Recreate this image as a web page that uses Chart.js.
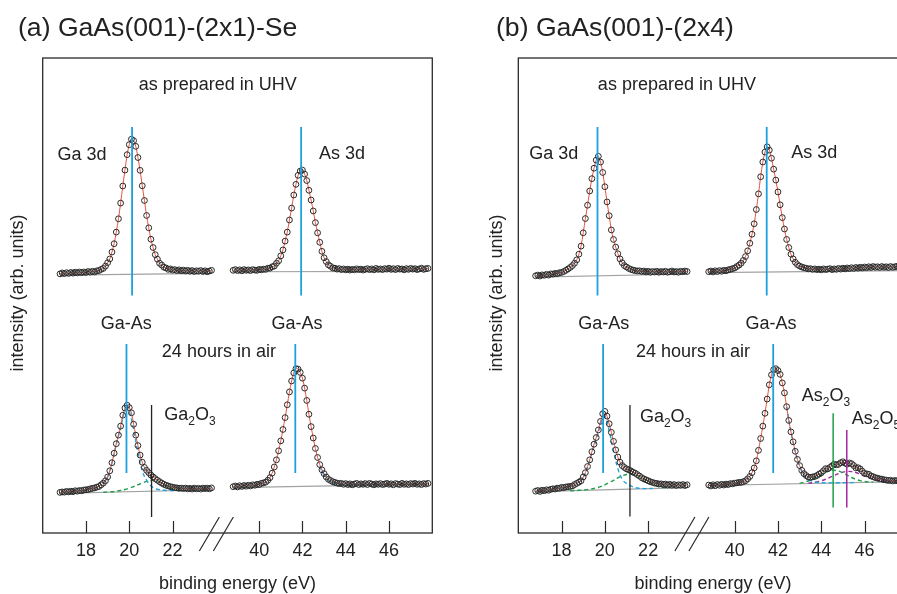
<!DOCTYPE html>
<html>
<head>
<meta charset="utf-8">
<script src="https://cdn.jsdelivr.net/npm/chart.js@4.4.0/dist/chart.umd.min.js"></script>
<style>
  html, body { margin: 0; padding: 0; background: #fff; width: 897px; height: 594px; overflow: hidden; }
  .panel { position: absolute; top: 0; width: 450px; height: 594px; }
  #pa { left: 0; }
  #pb { left: 475px; }
</style>
</head>
<body>
<div class="panel" id="pa"><canvas id="chartA" width="450" height="594"></canvas></div>
<div class="panel" id="pb"><canvas id="chartB" width="450" height="594"></canvas></div>
<script>
// binding energy grids (eV)
const gaEnergy = [16.8,16.9,17.0,17.1,17.2,17.3,17.4,17.5,17.6,17.7,17.8,17.9,18.0,18.1,18.2,18.3,18.4,18.5,18.6,18.7,
  18.8,18.9,19.0,19.1,19.2,19.3,19.4,19.5,19.6,19.7,19.8,19.9,20.0,20.1,20.2,20.3,20.4,20.5,20.6,20.7,
  20.8,20.9,21.0,21.1,21.2,21.3,21.4,21.5,21.6,21.7,21.8,21.9,22.0,22.1,22.2,22.3,22.4,22.5,22.6,22.7,
  22.8,22.9,23.0,23.1,23.2,23.3,23.4,23.5,23.6,23.7,23.8];
const asEnergy = [38.8,38.9,39.0,39.1,39.2,39.3,39.4,39.5,39.6,39.7,39.8,39.9,40.0,40.1,40.2,40.3,40.4,40.5,40.6,40.7,
  40.8,40.9,41.0,41.1,41.2,41.3,41.4,41.5,41.6,41.7,41.8,41.9,42.0,42.1,42.2,42.3,42.4,42.5,42.6,42.7,
  42.8,42.9,43.0,43.1,43.2,43.3,43.4,43.5,43.6,43.7,43.8,43.9,44.0,44.1,44.2,44.3,44.4,44.5,44.6,44.7,
  44.8,44.9,45.0,45.1,45.2,45.3,45.4,45.5,45.6,45.7,45.8,45.9,46.0,46.1,46.2,46.3,46.4,46.5,46.6,46.7,
  46.8,46.9,47.0,47.1,47.2,47.3,47.4,47.5,47.6,47.7,47.8];
const gaTicks = [18, 20, 22];
const asTicks = [40, 42, 44, 46];

// (a) GaAs(001)-(2x1)-Se
const aGaUhv = [9.1,9.5,9.2,9.6,9.3,9.7,9.4,9.8,9.5,9.9, 9.6,9.9,9.7,10.1,9.8,10.2,9.9,10.4,10.5,11.0,
  11.4,12.4,13.8,15.4,18.3,21.8,26.7,32.3,38.9,46.1, 52.8,59.3,63.5,65.8,65.2,62.8,58.1,52.7,46.2,40.0,
  33.7,28.5,23.7,20.2,17.2,15.3,13.6,12.8,11.9,11.6, 11.0,11.2,10.7,10.9,10.5,10.8,10.4,10.7,10.3,10.6,
  10.2,10.5,10.1,10.4,10.2,10.5,10.1,10.4,10.0,10.3, 10.6];
const aAsUhv = [10.6,10.9,10.5,10.8,10.4,10.9,10.6,10.8,10.5,10.9, 10.7,10.6,11.0,10.8,11.1,11.0,11.5,11.5,12.1,12.4,
  13.6,14.6,16.7,19.2,22.9,26.7,31.8,36.8,42.3,46.8, 50.6,52.4,52.8,51.1,48.4,44.3,40.2,35.6,30.7,26.4,
  22.4,18.6,15.9,14.3,12.9,12.3,11.6,11.5,11.1,11.3, 10.9,11.2,10.8,11.1,10.7,11.0,10.8,11.2,10.9,11.1,
  10.7,11.0,11.3,10.9,11.2,10.8,11.4,11.0,11.2,10.9, 11.3,11.1,11.5,11.0,11.3,10.9,11.4,11.1,11.2,10.8,
  11.3,11.0,11.4,11.1,11.3,10.9,11.2,11.5,11.0,11.3, 11.4];
const aGaAir = [17.1,17.3,17.2,17.5,17.3,17.6,17.4,17.8,17.6,17.9, 17.8,18.1,18.2,18.3,18.6,18.8,19.0,19.3,19.6,20.3,
  21.0,22.0,23.6,26.2,29.6,33.6,37.6,41.2,45.0,49.6, 52.6,53.8,52.8,50.6,45.8,41.2,36.8,32.8,29.8,27.6,
  26.4,25.4,24.4,23.6,22.9,22.2,21.6,21.0,20.5,20.1, 19.8,19.5,19.3,19.1,19.0,18.8,18.9,18.7,18.9,18.6,
  18.8,18.5,18.9,18.6,18.8,18.5,18.9,18.7,18.9,18.6, 19.0];
const aAsAir = [19.5,19.8,19.4,19.9,19.6,20.0,19.7,20.1,19.8,20.3, 20.1,20.5,20.4,20.9,21.1,21.4,22.2,23.3,25.2,27.8,
  30.8,34.6,38.8,43.6,48.6,54.0,59.4,64.0,67.4,69.2, 69.0,67.6,65.2,61.0,55.8,50.0,44.8,40.0,35.6,31.8,
  28.8,26.6,25.0,23.6,22.6,22.1,21.6,21.3,21.0,20.8, 20.9,20.5,20.8,20.4,20.7,20.3,20.6,20.9,20.4,20.7,
  20.5,20.8,20.4,20.9,20.6,20.3,20.7,20.5,20.8,20.4, 20.6,20.9,20.5,20.7,20.3,20.8,20.6,20.4,20.9,20.5,
  20.7,20.4,20.8,20.6,20.9,20.5,20.7,20.4,20.8,20.6, 20.9];
// fitted components and backgrounds, panel (a)
const aGaAirGaAs = [[18.8,21.0],[19.0,23.5],[19.2,29.4],[19.4,37.3],[19.6,44.4],[19.8,51.6],[19.9,52.6],[20.0,51.3],
  [20.2,43.7],[20.4,33.9],[20.6,26.2],[20.8,22.2],[21.0,19.9],[21.2,18.7],[21.4,18.2],[21.6,18.0],[21.8,17.9],[22.0,17.85],[22.2,17.86]];
const aGaAirOxide = [[18.8,17.17],[19.0,17.26],[19.2,17.38],[19.4,17.6],[19.6,17.89],[19.8,18.31],[20.0,18.87],[20.2,19.53],
  [20.4,20.32],[20.6,21.06],[20.8,21.71],[21.0,22.1],[21.2,22.21],[21.4,21.56],[21.6,20.33],[21.8,19.2],[22.0,18.43],[22.2,18.08],[22.4,17.96],[22.6,17.94]];
const aAsAirGaAs = [[42.8,28.0],[43.0,24.4],[43.2,22.2],[43.4,21.1],[43.6,20.6],[43.8,20.4],[44.2,20.3],[44.8,20.3],[45.4,20.35],[46.0,20.4]];
const aGaUhvBg = [[16.8,8.6],[23.8,9.3]];
const aAsUhvBg = [[38.8,10.0],[47.8,10.2]];
const aGaAirBg = [[16.8,16.7],[23.8,18.2]];
const aAsAirBg = [[38.8,19.1],[47.8,20.6]];
const aPeaks = { gaUhv: 20.13, asUhv: 41.94, gaAir: 19.87, ga2o3: 21.03, asAir: 41.67 };

// (b) GaAs(001)-(2x4)
const bGaUhv = [8.3,8.6,8.2,8.7,8.5,8.9,8.6,9.1,9.0,9.3, 9.2,9.6,9.7,10.1,10.6,11.2,11.8,12.6,13.6,15.0,
  17.4,20.8,26.4,32.4,38.0,44.0,49.2,53.6,57.0,58.6, 56.2,51.8,45.8,39.4,33.6,27.6,23.6,20.4,17.6,15.4,
  13.8,12.6,12.0,11.4,11.0,10.7,10.5,10.3,10.4,10.1, 10.3,9.9,10.2,9.8,10.1,9.9,10.2,9.8,10.1,9.9,
  10.2,9.8,10.0,10.3,9.9,10.1,9.8,10.2,10.0,10.3, 10.1];
const bAsUhv = [10.0,10.3,9.9,10.4,10.1,10.5,10.2,10.6,10.4,10.8, 11.0,11.3,11.6,12.2,12.8,13.6,14.8,16.4,18.8,22.0,
  25.8,30.2,36.2,42.8,50.0,56.2,60.4,62.6,61.2,57.8, 53.2,48.6,43.6,38.2,32.8,28.0,23.6,20.2,17.4,15.4,
  14.0,13.0,12.4,12.0,11.7,11.5,11.2,11.3,11.0,11.2, 10.9,11.1,10.8,11.2,10.9,11.1,11.3,10.9,11.2,11.0,
  11.4,11.1,11.5,11.2,11.6,11.3,11.7,11.4,11.8,11.5, 11.9,11.6,12.0,11.7,12.1,11.8,12.2,11.9,12.1,11.8,
  12.2,11.9,12.1,11.8,12.2,11.9,12.1,12.3,11.9,12.2, 12.0];
const bGaAir = [17.6,17.9,17.5,18.0,17.8,18.2,18.0,18.4,18.6,18.5, 18.9,18.8,19.2,19.1,19.4,19.5,19.6,19.8,20.4,20.9,
  21.4,22.0,23.6,25.4,28.0,30.8,34.2,37.4,40.2,43.4, 47.0,50.2,51.2,49.2,46.0,42.4,38.6,35.0,32.0,29.8,
  28.4,27.6,27.0,26.6,26.2,25.6,25.2,24.6,24.0,23.3, 22.8,22.4,22.0,21.6,21.3,21.0,20.9,20.6,20.7,20.4,
  20.6,20.2,20.5,20.1,20.4,20.0,20.3,20.1,20.4,20.0, 20.3];
const bAsAir = [20.2,19.8,20.3,19.9,20.4,20.1,20.5,20.2,20.6,20.4, 20.8,20.7,21.0,21.1,21.3,21.3,21.6,22.0,22.8,23.8,
  25.4,27.4,30.4,34.8,39.8,45.0,50.4,56.4,62.4,66.6, 68.8,69.2,68.4,66.8,63.2,59.0,53.2,47.4,42.6,38.4,
  34.4,31.0,28.4,26.4,25.0,24.2,23.6,23.4,23.6,23.8, 24.2,24.8,25.3,26.2,27.1,27.0,27.6,28.3,29.0,28.7,
  28.9,29.6,30.0,29.4,29.0,29.5,29.2,28.4,27.4,27.5, 27.0,26.0,25.1,24.9,24.7,24.0,23.7,23.3,23.1,22.8,
  22.7,22.4,22.3,22.1,22.2,21.9,22.1,22.0,21.8,22.0, 21.7];
// fitted components and backgrounds, panel (b)
const bGaAirGaAs = [[18.8,21.3],[19.0,23.4],[19.2,27.7],[19.4,33.6],[19.6,39.3],[19.8,45.6],[19.9,48.6],[20.0,49.1],[20.1,47.0],
  [20.2,43.0],[20.4,34.7],[20.6,27.1],[20.8,22.7],[21.0,20.8],[21.2,19.8],[21.4,19.1],[21.6,18.8],[21.8,18.7],[22.0,18.7],[22.2,18.75]];
const bGaAirOxide = [[18.4,17.79],[18.8,17.97],[19.2,18.28],[19.6,18.98],[19.8,19.53],[20.0,20.28],[20.2,21.23],[20.4,22.18],
  [20.6,23.22],[20.8,24.07],[21.0,24.62],[21.2,24.87],[21.4,24.62],[21.6,23.77],[21.8,22.71],[22.0,21.56],[22.2,20.61],[22.4,19.85],
  [22.6,19.32],[22.8,19.08],[23.0,18.99]];
const bAsAirGaAs = [[42.4,53.2],[42.6,42.5],[42.8,34.3],[43.0,28.1],[43.2,24.4],[43.4,22.6],[43.6,21.8],[43.8,21.4],[44.0,21.2],
  [44.4,21.1],[44.8,21.15],[45.2,21.2],[45.6,21.25]];
const bAsAirAs2O3 = [[43.0,21.0],[43.2,21.35],[43.4,21.88],[43.6,22.62],[43.8,23.59],[44.0,24.66],[44.2,25.59],[44.4,26.25],
  [44.6,26.41],[44.8,26.07],[45.0,25.3],[45.2,24.34],[45.4,23.37],[45.6,22.6],[45.8,22.03],[46.0,21.68],[46.2,21.51],[46.4,21.43]];
const bAsAirAs2O5 = [[43.4,21.0],[43.6,21.2],[43.8,21.52],[44.0,22.0],[44.2,22.62],[44.4,23.4],[44.6,24.23],[44.8,25.02],
  [45.0,25.61],[45.2,25.93],[45.4,25.86],[45.6,25.48],[45.8,24.83],[46.0,24.08],[46.2,23.34],[46.4,22.7],[46.6,22.23],
  [46.8,21.9],[47.0,21.7],[47.2,21.6]];
const bGaUhvBg = [[16.8,7.7],[23.8,9.05]];
const bAsUhvBg = [[38.8,9.6],[47.8,10.5]];
const bGaAirBg = [[16.8,17.4],[23.8,19.1]];
const bAsAirBg = [[38.8,20.0],[47.8,21.6]];
const bPeaks = { gaUhv: 19.66, asUhv: 41.48, gaAir: 19.92, ga2o3: 21.16, asAir: 41.78, as2o3: 44.55, as2o5: 45.18 };

const RED = '#e5533d', BLUE = '#1ba1e0', GREEN = '#1f9f4a', PURPLE = '#a1289c', GREY = '#a2a2a2', INK = '#222';
const FONT = '"Liberation Sans", Arial, Helvetica, sans-serif';

function pts(xs, ys) { return xs.map((x, i) => ({ x, y: ys[i] })); }
function pairs(list) { return list.map(p => ({ x: p[0], y: p[1] })); }

function spectrum(xs, ys, xId, yId) {
  return {
    data: pts(xs, ys), xAxisID: xId, yAxisID: yId,
    borderColor: RED, borderWidth: 1, tension: 0.3,
    pointRadius: 2.9, pointBorderWidth: 1, pointBorderColor: '#2a2a2a',
    pointBackgroundColor: 'rgba(255,255,255,0)', order: 1
  };
}
function dashed(list, color, xId, yId) {
  return {
    data: pairs(list), xAxisID: xId, yAxisID: yId,
    borderColor: color, borderWidth: 1.4, borderDash: [4, 3],
    pointRadius: 0, tension: 0.4, order: 2
  };
}
function background(list, xId, yId) {
  return {
    data: pairs(list), xAxisID: xId, yAxisID: yId,
    borderColor: GREY, borderWidth: 1.2, pointRadius: 0, order: 3
  };
}
function marker(e, lo, hi, color, xId, yId, w) {
  return {
    data: [{ x: e, y: lo }, { x: e, y: hi }], xAxisID: xId, yAxisID: yId,
    borderColor: color, borderWidth: w || 1.8, pointRadius: 0, order: 0
  };
}

// text with {subscript} parts
function rich(ctx, text, x, y, align, size) {
  const parts = [];
  text.replace(/\{([^}]*)\}|([^{]+)/g, (m, sub, norm) => {
    parts.push(sub !== undefined ? [sub, true] : [norm, false]);
    return m;
  });
  const subSize = Math.round(size * 0.68);
  let w = 0;
  parts.forEach(p => {
    ctx.font = (p[1] ? subSize : size) + 'px ' + FONT;
    p.push(ctx.measureText(p[0]).width);
    w += p[2];
  });
  let cx = align === 'center' ? x - w / 2 : x;
  ctx.textAlign = 'left';
  ctx.textBaseline = 'alphabetic';
  parts.forEach(p => {
    ctx.font = (p[1] ? subSize : size) + 'px ' + FONT;
    ctx.fillText(p[0], cx, p[1] ? y + size * 0.28 : y);
    cx += p[2];
  });
}

function makeDeco(p) {
  return {
    id: 'deco',
    afterDraw(chart) {
      const { ctx, chartArea: a, scales } = chart;
      ctx.save();
      ctx.strokeStyle = '#2a2a2a';
      ctx.lineWidth = 1.3;
      ctx.strokeRect(a.left, a.top, a.right - a.left, a.bottom - a.top);

      // inward tick marks
      ctx.lineWidth = 1.2;
      ctx.beginPath();
      ['xGa', 'xAs'].forEach(id => {
        const s = scales[id];
        s.ticks.forEach(t => {
          const px = Math.round(s.getPixelForValue(t.value)) + 0.5;
          ctx.moveTo(px, a.bottom);
          ctx.lineTo(px, a.bottom - 12);
        });
      });
      // axis break marks
      const bx = scales.xGa.right;
      ctx.moveTo(bx - 16.5, a.bottom + 18); ctx.lineTo(bx + 3.5, a.bottom - 16);
      ctx.moveTo(bx - 2.5, a.bottom + 18); ctx.lineTo(bx + 17.5, a.bottom - 16);
      ctx.stroke();

      ctx.fillStyle = INK;
      p.labels.forEach(l => {
        const x = scales[l[1]].getPixelForValue(l[2]);
        const y = scales[l[3]].getPixelForValue(l[4]);
        rich(ctx, l[0], x, y, l[5], 18);
      });

      // panel title
      ctx.font = '26.6px ' + FONT;
      ctx.textAlign = 'left';
      ctx.textBaseline = 'alphabetic';
      ctx.fillText(p.title, p.titleX, 36);

      // axis titles
      ctx.font = '18px ' + FONT;
      ctx.textAlign = 'center';
      ctx.fillText('binding energy (eV)', (a.left + a.right) / 2, 588.5);
      ctx.translate(p.yTitleX, 293);
      ctx.rotate(-Math.PI / 2);
      ctx.textBaseline = 'middle';
      ctx.fillText('intensity (arb. units)', 0, 0);
      ctx.restore();
    }
  };
}

function xScale(min, max, ticks, weight) {
  return {
    type: 'linear', position: 'bottom', min, max,
    stack: 'energy', stackWeight: weight,
    afterBuildTicks: s => { s.ticks = ticks.map(v => ({ value: v })); },
    grid: { display: false, drawTicks: false },
    border: { display: false },
    ticks: { color: INK, padding: 7.2, maxRotation: 0, autoSkip: false, font: { family: FONT, size: 18 } }
  };
}
function yScale() {
  return { type: 'linear', position: 'left', display: false, min: 0, max: 100, stack: 'rows', stackWeight: 1 };
}

function makePanel(p) {
  new Chart(document.getElementById(p.canvas), {
    type: 'line',
    data: { datasets: p.datasets },
    options: {
      responsive: false, animation: false, devicePixelRatio: 1,
      layout: { padding: p.padding },
      plugins: { legend: { display: false }, tooltip: { enabled: false } },
      scales: {
        xGa: xScale(16, 24, gaTicks, 8),
        xAs: xScale(38, 48, asTicks, 10),
        yBot: yScale(),
        yTop: yScale()
      }
    },
    plugins: [makeDeco(p)]
  });
}

makePanel({
  canvas: 'chartA', title: '(a) GaAs(001)-(2x1)-Se', titleX: 18, yTitleX: 18,
  padding: { left: 42.7, top: 58, right: 17.7, bottom: 25 },
  labels: [
    ['as prepared in UHV', 'xAs', 38.09, 'yTop', 86.7, 'center'],
    ['Ga 3d', 'xGa', 17.82, 'yTop', 57.1, 'center'],
    ['As 3d', 'xAs', 43.83, 'yTop', 57.3, 'center'],
    ['Ga-As', 'xGa', 19.86, 'yBot', 86.1, 'center'],
    ['Ga-As', 'xAs', 41.75, 'yBot', 86.1, 'center'],
    ['24 hours in air', 'xAs', 38.14, 'yBot', 74.0, 'center'],
    ['Ga{2}O{3}', 'xGa', 21.62, 'yBot', 47.5, 'left']
  ],
  datasets: [
    marker(aPeaks.gaUhv, -1, 71, BLUE, 'xGa', 'yTop'),
    marker(aPeaks.asUhv, -1, 71, BLUE, 'xAs', 'yTop'),
    marker(aPeaks.gaAir, 25.3, 79.6, BLUE, 'xGa', 'yBot'),
    marker(aPeaks.asAir, 25.3, 79.6, BLUE, 'xAs', 'yBot'),
    marker(aPeaks.ga2o3, 6.7, 53.9, INK, 'xGa', 'yBot', 1.3),
    spectrum(gaEnergy, aGaUhv, 'xGa', 'yTop'),
    spectrum(asEnergy, aAsUhv, 'xAs', 'yTop'),
    spectrum(gaEnergy, aGaAir, 'xGa', 'yBot'),
    spectrum(asEnergy, aAsAir, 'xAs', 'yBot'),
    dashed(aGaAirGaAs, BLUE, 'xGa', 'yBot'),
    dashed(aGaAirOxide, GREEN, 'xGa', 'yBot'),
    dashed(aAsAirGaAs, BLUE, 'xAs', 'yBot'),
    background(aGaUhvBg, 'xGa', 'yTop'),
    background(aAsUhvBg, 'xAs', 'yTop'),
    background(aGaAirBg, 'xGa', 'yBot'),
    background(aAsAirBg, 'xAs', 'yBot')
  ]
});

makePanel({
  canvas: 'chartB', title: '(b) GaAs(001)-(2x4)', titleX: 21, yTitleX: 22,
  padding: { left: 43.3, top: 58, right: 17.2, bottom: 25 },
  labels: [
    ['as prepared in UHV', 'xGa', 23.33, 'yTop', 86.7, 'center'],
    ['Ga 3d', 'xGa', 17.64, 'yTop', 57.3, 'center'],
    ['As 3d', 'xAs', 43.68, 'yTop', 57.8, 'center'],
    ['Ga-As', 'xGa', 19.95, 'yBot', 86.1, 'center'],
    ['Ga-As', 'xAs', 41.68, 'yBot', 86.1, 'center'],
    ['24 hours in air', 'xAs', 38.07, 'yBot', 74.0, 'center'],
    ['Ga{2}O{3}', 'xGa', 21.62, 'yBot', 46.9, 'left'],
    ['As{2}O{3}', 'xAs', 43.1, 'yBot', 55.7, 'left'],
    ['As{2}O{5}', 'xAs', 45.41, 'yBot', 45.9, 'left']
  ],
  datasets: [
    marker(bPeaks.gaUhv, -1, 71, BLUE, 'xGa', 'yTop'),
    marker(bPeaks.asUhv, -1, 71, BLUE, 'xAs', 'yTop'),
    marker(bPeaks.gaAir, 25.3, 79.6, BLUE, 'xGa', 'yBot'),
    marker(bPeaks.asAir, 25.3, 79.6, BLUE, 'xAs', 'yBot'),
    marker(bPeaks.ga2o3, 6.9, 53.9, INK, 'xGa', 'yBot', 1.3),
    marker(bPeaks.as2o3, 10.7, 50.4, GREEN, 'xAs', 'yBot', 1.5),
    marker(bPeaks.as2o5, 10.7, 43.4, PURPLE, 'xAs', 'yBot', 1.5),
    spectrum(gaEnergy, bGaUhv, 'xGa', 'yTop'),
    spectrum(asEnergy, bAsUhv, 'xAs', 'yTop'),
    spectrum(gaEnergy, bGaAir, 'xGa', 'yBot'),
    spectrum(asEnergy, bAsAir, 'xAs', 'yBot'),
    dashed(bGaAirGaAs, BLUE, 'xGa', 'yBot'),
    dashed(bGaAirOxide, GREEN, 'xGa', 'yBot'),
    dashed(bAsAirGaAs, BLUE, 'xAs', 'yBot'),
    dashed(bAsAirAs2O3, GREEN, 'xAs', 'yBot'),
    dashed(bAsAirAs2O5, PURPLE, 'xAs', 'yBot'),
    background(bGaUhvBg, 'xGa', 'yTop'),
    background(bAsUhvBg, 'xAs', 'yTop'),
    background(bGaAirBg, 'xGa', 'yBot'),
    background(bAsAirBg, 'xAs', 'yBot')
  ]
});
</script>
</body>
</html>
